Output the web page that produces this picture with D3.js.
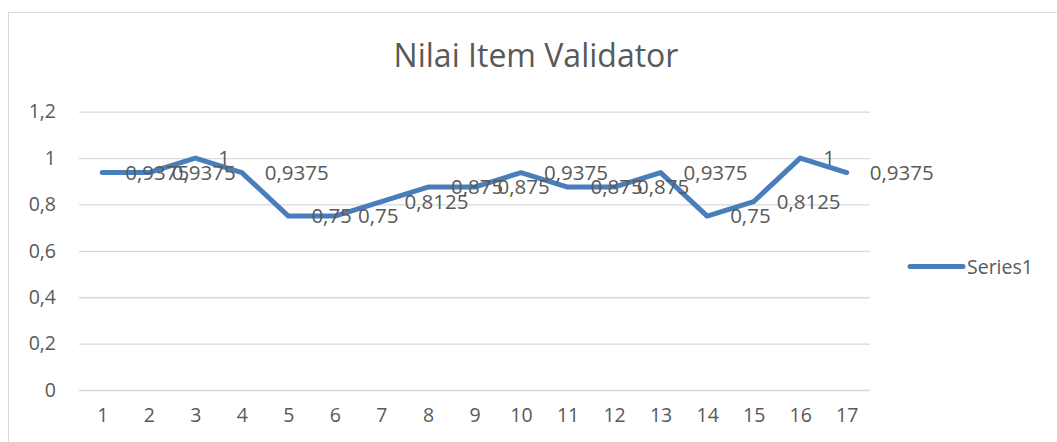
<!DOCTYPE html>
<html>
<head>
<meta charset="utf-8">
<script src="https://cdn.jsdelivr.net/npm/d3@7"></script>
<style>
  body { margin: 0; background: #fff; }
  svg text { font-family: "Open Sans", sans-serif; fill: #595959; }
</style>
</head>
<body>
<svg id="chart" width="1057" height="442"></svg>
<script>
// chart data
var categories = ["1", "2", "3", "4", "5", "6", "7", "8", "9", "10", "11", "12", "13", "14", "15", "16", "17"];
var series1 = [0.9375, 0.9375, 1, 0.9375, 0.75, 0.75, 0.8125, 0.875, 0.875, 0.9375, 0.875, 0.875, 0.9375, 0.75, 0.8125, 1, 0.9375];
var value_labels = ["0,9375", "0,9375", "1", "0,9375", "0,75", "0,75", "0,8125", "0,875", "0,875", "0,9375", "0,875", "0,875", "0,9375", "0,75", "0,8125", "1", "0,9375"];
var y_ticks = [0, 0.2, 0.4, 0.6, 0.8, 1, 1.2];
var y_tick_labels = ["0", "0,2", "0,4", "0,6", "0,8", "1", "1,2"];
var series_name = "Series1";
var chart_title = "Nilai Item Validator";

var line_color = "#4a7ebb";
var grid_color = "#d9d9d9";

var svg = d3.select("#chart");

// outer chart border (runs off the right and bottom of the picture)
svg.append("rect")
  .attr("x", 8.5).attr("y", 12.5)
  .attr("width", 1100).attr("height", 500)
  .attr("fill", "none")
  .attr("stroke", grid_color)
  .attr("stroke-width", 1);

var x = d3.scalePoint()
  .domain(categories)
  .range([79, 870])
  .padding(0.5);

var y = d3.scaleLinear()
  .domain([0, 1.2])
  .range([390, 111.7]);

// title
svg.append("text")
  .attr("x", 536).attr("y", 67)
  .attr("text-anchor", "middle")
  .style("font-size", "32px")
  .text(chart_title);

// gridlines
var y_axis = d3.axisLeft(y)
  .tickValues(y_ticks)
  .tickSize(-(870 - 79))
  .tickPadding(23)
  .tickFormat(function (d, i) { return y_tick_labels[i]; });

var gy = svg.append("g")
  .attr("transform", "translate(79,0)")
  .call(y_axis);
gy.select(".domain").remove();
gy.selectAll(".tick line").attr("stroke", grid_color).attr("stroke-width", 1.3);
gy.selectAll(".tick text")
  .style("font-size", "19.5px")
  .attr("fill", "#595959");

// x axis labels only
var x_axis = d3.axisBottom(x).tickSize(0).tickPadding(18);
var gx = svg.append("g")
  .attr("transform", "translate(0,390)")
  .call(x_axis);
gx.select(".domain").remove();
gx.selectAll(".tick text")
  .style("font-size", "19.5px")
  .attr("fill", "#595959");

// the line
var line = d3.line()
  .x(function (d, i) { return x(categories[i]); })
  .y(function (d) { return y(d); });

svg.append("path")
  .datum(series1)
  .attr("d", line)
  .attr("fill", "none")
  .attr("stroke", line_color)
  .attr("stroke-width", 5)
  .attr("stroke-linecap", "round")
  .attr("stroke-linejoin", "round");

// data labels, placed to the right of each point
svg.append("g")
  .selectAll("text")
  .data(series1)
  .enter()
  .append("text")
  .attr("x", function (d, i) { return x(categories[i]) + 23; })
  .attr("y", function (d) { return y(d); })
  .attr("dy", "0.36em")
  .style("font-size", "20.5px")
  .attr("fill", "#404040")
  .text(function (d, i) { return value_labels[i]; });

// legend
svg.append("line")
  .attr("x1", 910).attr("x2", 963)
  .attr("y1", 266.5).attr("y2", 266.5)
  .attr("stroke", line_color)
  .attr("stroke-width", 5)
  .attr("stroke-linecap", "round");

svg.append("text")
  .attr("x", 967).attr("y", 266.5)
  .attr("dy", "0.36em")
  .style("font-size", "19.5px")
  .text(series_name);
</script>
</body>
</html>
